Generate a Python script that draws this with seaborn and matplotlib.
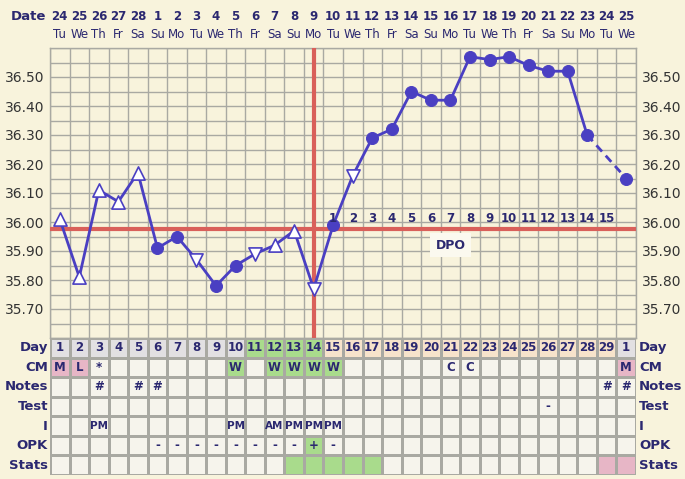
import numpy as np
import pandas as pd
import matplotlib
matplotlib.use("Agg")
import matplotlib.pyplot as plt
from matplotlib.colors import ListedColormap
import seaborn as sns

# chart data
dates = [24, 25, 26, 27, 28, 1, 2, 3, 4, 5, 6, 7, 8, 9, 10, 11, 12, 13, 14, 15,
         16, 17, 18, 19, 20, 21, 22, 23, 24, 25]
weekdays = ["Tu", "We", "Th", "Fr", "Sa", "Su", "Mo", "Tu", "We", "Th", "Fr", "Sa", "Su", "Mo", "Tu",
            "We", "Th", "Fr", "Sa", "Su", "Mo", "Tu", "We", "Th", "Fr", "Sa", "Su", "Mo", "Tu", "We"]
cycle_days = [1, 2, 3, 4, 5, 6, 7, 8, 9, 10, 11, 12, 13, 14, 15, 16, 17, 18, 19, 20,
              21, 22, 23, 24, 25, 26, 27, 28, 29, 1]
temps = [36.01, 35.81, 36.11, 36.07, 36.17, 35.91, 35.95, 35.87, 35.78, 35.85,
         35.89, 35.92, 35.97, 35.77, 35.99, 36.16, 36.29, 36.32, 36.45, 36.42,
         36.42, 36.57, 36.56, 36.57, 36.54, 36.52, 36.52, 36.30, np.nan, 36.15]
marks = ["^", "^", "^", "^", "^", "o", "o", "v", "o", "o", "v", "^", "^", "v", "o",
         "v", "o", "o", "o", "o", "o", "o", "o", "o", "o", "o", "o", "o", "", "o"]
coverline = 35.975
ovulation_day = 14
dpo_labels = [str(i) for i in range(1, 16)]

row_names = ["Day", "CM", "Notes", "Test", "I", "OPK", "Stats"]
cm = ["M", "L", "*", "", "", "", "", "", "", "W", "", "W", "W", "W", "W",
      "", "", "", "", "", "C", "C", "", "", "", "", "", "", "", "M"]
notes = ["", "", "#", "", "#", "#", "", "", "", "", "", "", "", "", "",
         "", "", "", "", "", "", "", "", "", "", "", "", "", "#", "#"]
test = [""] * 25 + ["-"] + [""] * 4
intercourse = ["", "", "PM", "", "", "", "", "", "", "PM", "", "AM", "PM", "PM", "PM",
               "", "", "", "", "", "", "", "", "", "", "", "", "", "", ""]
opk = ["", "", "", "", "", "-", "-", "-", "-", "-", "-", "-", "-", "+", "-",
       "", "", "", "", "", "", "", "", "", "", "", "", "", "", ""]
stats = [""] * 30

# cell colour codes: 0 plain, 1 grey, 2 green, 3 peach, 4 pink
day_fill = [1] * 10 + [2] * 4 + [3] * 15 + [1]
cm_fill = [4, 4, 0, 0, 0, 0, 0, 0, 0, 2, 0, 2, 2, 2, 2] + [0] * 14 + [4]
opk_fill = [0] * 13 + [2] + [0] * 16
stats_fill = [0] * 12 + [2] * 5 + [0] * 11 + [4, 4]

bg = "#f8f3dc"
navy = "#2b2870"
blue = "#4a3fc2"
red = "#d9605a"
gridc = "#a9a9a2"

fig = plt.figure(figsize=(6.85, 4.79), dpi=100)
fig.patch.set_facecolor(bg)
sns.set_style("white")
plt.rcParams["font.family"] = ["DejaVu Sans"]

W, H = 685, 479
L, R, T, B = 50, 636, 48, 338
ax = fig.add_axes([L / W, 1 - B / H, (R - L) / W, (B - T) / H])
ax.set_facecolor(bg)

days = np.arange(1, 31)
df = pd.DataFrame({"day": days, "temp": temps, "mark": marks})

ax.axhline(coverline, color=red, lw=3, zorder=3)
ax.axvline(ovulation_day, color=red, lw=3, zorder=3)

solid = df[df.day <= 28]
sns.lineplot(data=solid, x="day", y="temp", color=blue, lw=2, ax=ax, zorder=4)
tail = df[df.day >= 28].dropna()
sns.lineplot(data=tail, x="day", y="temp", color=blue, lw=2, linestyle=(0, (3, 2)), ax=ax, zorder=4)

filled = df[df.mark == "o"]
sns.scatterplot(data=filled, x="day", y="temp", color=blue, s=75, edgecolor=blue, ax=ax, zorder=5)
for m in ["^", "v"]:
    sub = df[df.mark == m]
    sns.scatterplot(data=sub, x="day", y="temp", marker=m, s=90, facecolor="white",
                    edgecolor=blue, linewidth=1.2, ax=ax, zorder=5)

ax.set_xlim(0.5, 30.5)
ax.set_ylim(35.60, 36.60)
ax.set_xticks(np.arange(0.5, 31, 1))
ax.set_xticklabels([])
ytk = np.round(np.arange(35.70, 36.55, 0.1), 2)
ax.set_yticks(ytk)
ax.set_yticklabels([f"{v:.2f}" for v in ytk])
ax.set_yticks(np.round(np.arange(35.60, 36.61, 0.05), 2), minor=True)
ax.tick_params(axis="both", which="both", length=0)
ax.tick_params(axis="y", labelsize=10, labelcolor="#333333", labelright=True, pad=4)
ax.grid(True, which="both", color=gridc, lw=1, zorder=0)
ax.set_axisbelow(True)
for s in ax.spines.values():
    s.set_color(gridc)
    s.set_linewidth(1)
ax.set_xlabel("")
ax.set_ylabel("")

# dpo counts
for i, lab in enumerate(dpo_labels):
    ax.text(ovulation_day + 1 + i, 36.013, lab, ha="center", va="center",
            fontsize=8.5, fontweight="bold", color=navy, zorder=6)
ax.text(21, 35.92, "DPO", ha="center", va="center", fontsize=9, fontweight="bold",
        color=navy, zorder=6,
        bbox=dict(boxstyle="square,pad=0.45", fc="#fbf9ef", ec="none"))

# date header
xt = ax.get_xaxis_transform()
for d, dt, wd in zip(days, dates, weekdays):
    ax.text(d, (B - 17) / (B - T), str(dt), transform=xt, ha="center", va="center",
            fontsize=8.5, fontweight="bold", color=navy)
    ax.text(d, (B - 34) / (B - T), wd, transform=xt, ha="center", va="center",
            fontsize=8.5, color=navy)
fig.text(46 / W, 1 - 17 / H, "Date", ha="right", va="center", fontsize=9.5,
         fontweight="bold", color=navy)

# table below the chart
tb = 475
tax = fig.add_axes([L / W, 1 - tb / H, (R - L) / W, (tb - B) / H])
fills = np.array([day_fill, cm_fill, [0] * 30, [0] * 30, [0] * 30, opk_fill, stats_fill])
texts = np.array([[str(c) for c in cycle_days], cm, notes, test, intercourse, opk, stats])
cmap = ListedColormap(["#f6f4ec", "#e2e0e2", "#a9db8c", "#f7e3cb", "#e7b6c6"])
sns.heatmap(fills, cmap=cmap, vmin=-0.5, vmax=4.5, cbar=False, annot=texts, fmt="",
            annot_kws={"fontsize": 8.5, "fontweight": "bold", "color": navy},
            linewidths=0.8, linecolor=gridc, xticklabels=False, yticklabels=False, ax=tax)
for t in tax.texts:
    t.set_color(navy)
    if t.get_text() in ("AM", "PM"):
        t.set_fontsize(7.5)
for j, name in enumerate(row_names):
    tax.text(-0.1, j + 0.5, name, ha="right", va="center", fontsize=9.5,
             fontweight="bold", color=navy)
    tax.text(30.15, j + 0.5, name, ha="left", va="center", fontsize=9.5,
             fontweight="bold", color=navy)

fig.savefig("out.png", dpi=100, facecolor=bg)
